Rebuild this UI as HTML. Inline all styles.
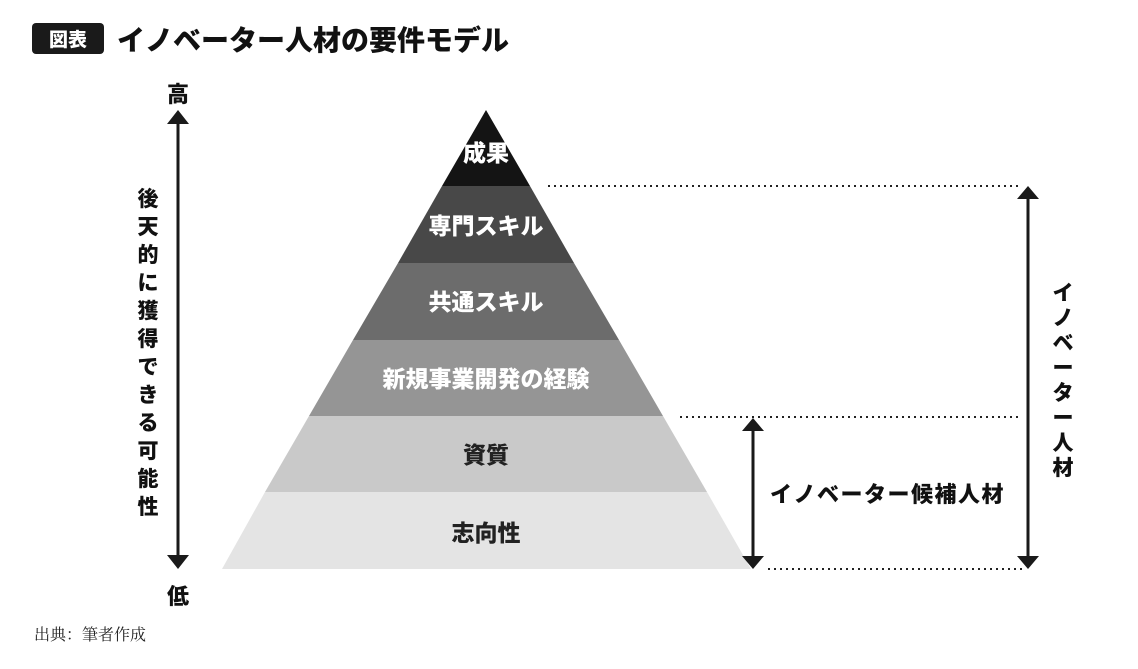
<!DOCTYPE html>
<html><head><meta charset="utf-8"><style>
body{margin:0;width:1138px;height:664px;background:#fff;overflow:hidden;font-family:"Liberation Sans","Noto Sans CJK JP",sans-serif;}
svg text{font-family:"Liberation Sans","Noto Sans CJK JP",sans-serif;font-weight:900;}
</style></head><body>
<svg width="1138" height="664" viewBox="0 0 1138 664">
<rect x="32" y="23" width="72" height="31" rx="4" fill="#1a1a1a"/>
<text x="68" y="46" fill="#fff" font-size="19" text-anchor="middle">図表</text>
<text x="117" y="50" fill="#111" font-size="28">イノベーター人材の要件モデル</text>
<polygon points="486,110 530,186 442,186" fill="#141414"/>
<polygon points="442,186 530,186 574,263 398,263" fill="#484848"/>
<polygon points="398,263 574,263 619,340 353,340" fill="#6c6c6c"/>
<polygon points="353,340 619,340 663,416 309,416" fill="#959595"/>
<polygon points="309,416 663,416 707,492 265,492" fill="#c9c9c9"/>
<polygon points="265,492 707,492 751,569 222,569" fill="#e4e4e4"/>
<g font-size="23" text-anchor="middle">
<text x="486" y="161" fill="#fff">成果</text>
<text x="486" y="234" fill="#fff">専門スキル</text>
<text x="486" y="310" fill="#fff">共通スキル</text>
<text x="486" y="387" fill="#fff">新規事業開発の経験</text>
<text x="486" y="463" fill="#222">資質</text>
<text x="486" y="541" fill="#222">志向性</text>
</g>
<g stroke="#222" stroke-width="2" stroke-dasharray="2,4">
<line x1="548" y1="186" x2="1022" y2="186"/>
<line x1="680" y1="417" x2="1022" y2="417"/>
<line x1="768" y1="569" x2="1022" y2="569"/>
</g>
<g fill="#1a1a1a">
<line x1="178" y1="120" x2="178" y2="560" stroke="#1a1a1a" stroke-width="3"/>
<polygon points="178,110 167,124 189,124"/><polygon points="178,569 167,555 189,555"/>
<line x1="1028" y1="195" x2="1028" y2="560" stroke="#1a1a1a" stroke-width="3"/>
<polygon points="1028,186 1017,199 1039,199"/><polygon points="1028,569 1017,556 1039,556"/>
<line x1="753" y1="427" x2="753" y2="560" stroke="#1a1a1a" stroke-width="3"/>
<polygon points="753,418 742,431 764,431"/><polygon points="753,569 742,556 764,556"/>
</g>
<g font-size="22" fill="#111" text-anchor="middle">
<text x="178" y="102">高</text>
<text x="178" y="604">低</text>
</g>
<g font-size="21" fill="#111" text-anchor="middle">
<text x="148" y="206">後</text><text x="148" y="234">天</text><text x="148" y="262">的</text><text x="148" y="290">に</text><text x="148" y="318">獲</text><text x="148" y="346">得</text><text x="148" y="374">で</text><text x="148" y="402">き</text><text x="148" y="430">る</text><text x="148" y="458">可</text><text x="148" y="486">能</text><text x="148" y="514">性</text>
</g>
<g font-size="21" fill="#111" text-anchor="middle">
<text x="1063" y="300">イ</text><text x="1063" y="325">ノ</text><text x="1063" y="350">ベ</text><text x="1063" y="375">ー</text><text x="1063" y="400">タ</text><text x="1063" y="425">ー</text><text x="1063" y="450">人</text><text x="1063" y="475">材</text>
</g>
<text x="770" y="502" font-size="22" fill="#111" letter-spacing="1.5">イノベーター候補人材</text>
<text x="34" y="640" font-size="16" fill="#222" style="font-family:'Liberation Serif','Noto Serif CJK SC',serif;font-weight:normal">出典：筆者作成</text>
</svg>
</body></html>
